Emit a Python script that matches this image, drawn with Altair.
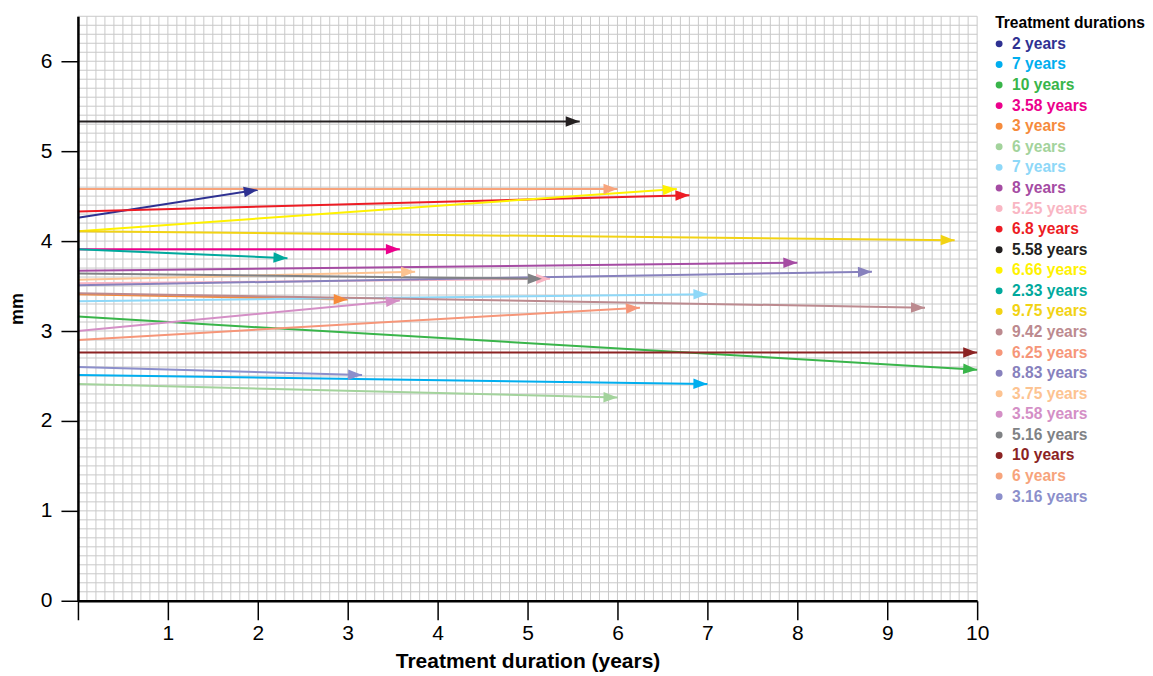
import math
import altair as alt
import numpy as np
import pandas as pd

labels = ["2 years", "7 years", "10 years", "3.58 years", "3 years", "6 years",
          "7 years", "8 years", "5.25 years", "6.8 years", "5.58 years", "6.66 years",
          "2.33 years", "9.75 years", "9.42 years", "6.25 years", "8.83 years",
          "3.75 years", "3.58 years", "5.16 years", "10 years", "6 years", "3.16 years"]
durations = [2, 7, 10, 3.58, 3, 6, 7, 8, 5.25, 6.8, 5.58, 6.66, 2.33, 9.75, 9.42,
             6.25, 8.83, 3.75, 3.58, 5.16, 10, 6, 3.16]
start_mm = [4.26, 2.51, 3.16, 3.91, 3.41, 2.41, 3.33, 3.67, 3.53, 4.33, 5.33, 4.11,
            3.91, 4.11, 3.42, 2.90, 3.51, 3.57, 3.00, 3.64, 2.76, 4.58, 2.60]
end_mm = [4.57, 2.41, 2.57, 3.91, 3.35, 2.26, 3.41, 3.76, 3.58, 4.51, 5.33, 4.58,
          3.81, 4.01, 3.26, 3.26, 3.66, 3.66, 3.34, 3.58, 2.76, 4.58, 2.51]
colors = ["#2e3192", "#00aeef", "#39b54a", "#ec008c", "#f68b3c", "#a3d39c",
          "#8ed8f8", "#a54ca3", "#f9b6c3", "#ed1c24", "#231f20", "#fff200",
          "#00a99d", "#f2d314", "#bc8a8f", "#f69679", "#8781bd", "#fdc391",
          "#d48fc6", "#808285", "#8b2323", "#f7a47c", "#8c8fcb"]
legend_title = "Treatment durations"

ids = [f"s{i:02d}" for i in range(len(labels))]
PX_X = 900 / 10.0
PX_Y = 585 / 6.5

df = pd.DataFrame({
    "id": ids, "label": labels, "dur": durations,
    "y0": start_mm, "y1": end_mm, "x0": [0.0] * len(ids),
    "row": list(range(1, len(ids) + 1)),
})
df["ang"] = [math.degrees(math.atan2(-(b - a) * PX_Y, d * PX_X)) % 360
             for a, b, d in zip(df.y0, df.y1, df.dur)]

FONT = "Liberation Sans"
xscale = alt.Scale(domain=[0, 10], nice=False, zero=False)
yscale = alt.Scale(domain=[0, 6.5], nice=False, zero=False)

xaxis = alt.Axis(
    values=[i * 0.5 for i in range(21)], grid=False, format="d",
    tickSize={"condition": {"test": "datum.value % 1 === 0", "value": 19}, "value": 12},
    tickColor="black", tickWidth=1.5, domainColor="black", domainWidth=2.5,
    labelExpr="datum.value >= 1 && datum.value % 1 === 0 ? datum.label : ''",
    labelFont=FONT, labelFontSize=21, labelColor="black", labelPadding=3,
    labelFlush=False, labelOverlap=False,
    title="Treatment duration (years)", titleFont=FONT, titleFontSize=21,
    titleFontWeight="bold", titleColor="black", titlePadding=7, zindex=1,
)
yaxis = alt.Axis(
    values=[i * 0.5 for i in range(13)], grid=False, format="d",
    tickSize={"condition": {"test": "datum.value % 1 === 0", "value": 17}, "value": 11},
    tickColor="black", tickWidth=1.5, domainColor="black", domainWidth=2.5,
    labelExpr="datum.value % 1 === 0 ? datum.label : ''",
    labelFont=FONT, labelFontSize=21, labelColor="black", labelPadding=9,
    labelFlush=False, labelOverlap=False,
    title="mm", titleFont=FONT, titleFontSize=18, titleFontWeight="bold",
    titleColor="black", titlePadding=14, zindex=1,
)

color = alt.Color("id:N", scale=alt.Scale(domain=ids, range=colors), legend=None)

gx = pd.DataFrame({"gx": np.round(np.arange(0, 101) * 0.1, 2)})
gy = pd.DataFrame({"gy": np.round(np.arange(0, 66) * 0.1, 2)})

grid_x = alt.Chart(gx).mark_rule(color="#c9c9c9", strokeWidth=1).encode(
    x=alt.X("gx:Q", scale=xscale, axis=xaxis))
grid_y = alt.Chart(gy).mark_rule(color="#c9c9c9", strokeWidth=1).encode(
    y=alt.Y("gy:Q", scale=yscale, axis=yaxis))

base = alt.Chart(df)
lines = base.mark_rule(strokeWidth=2).encode(
    x=alt.X("x0:Q", scale=xscale, axis=xaxis),
    x2="dur:Q",
    y=alt.Y("y0:Q", scale=yscale, axis=yaxis),
    y2="y1:Q",
    color=color,
)
heads = base.mark_point(shape="M0,0 L-2,-0.75 L-2,0.75 Z", filled=True, size=196,
                        opacity=1, strokeWidth=0).encode(
    x=alt.X("dur:Q", scale=xscale, axis=xaxis),
    y=alt.Y("y1:Q", scale=yscale, axis=yaxis),
    angle=alt.Angle("ang:Q", scale=None),
    color=color,
)

main = alt.layer(grid_x, grid_y, lines, heads).properties(width=900, height=585)

# legend panel: row 0 is the title, rows 1..23 the entries (step ~20.6 px)
STEP = 20.6
lscale = alt.Scale(domain=[-7 / STEP, 585 / STEP - 7 / STEP], reverse=True, nice=False, zero=False)
legbase = alt.Chart(df).encode(
    y=alt.Y("row:Q", axis=None, scale=lscale),
    color=color,
)
dots = legbase.mark_circle(size=48, opacity=1).encode(x=alt.value(5))
texts = legbase.mark_text(align="left", baseline="middle", font=FONT, fontSize=15.6,
                          fontWeight="bold").encode(x=alt.value(18), text="label:N")
tdf = pd.DataFrame({"row": [0], "label": [legend_title]})
ltitle = alt.Chart(tdf).mark_text(align="left", baseline="middle", font=FONT,
                                  fontSize=15.6, fontWeight="bold", color="black").encode(
    x=alt.value(1), y=alt.Y("row:Q", axis=None, scale=lscale), text="label:N")
legend = alt.layer(dots, texts, ltitle).properties(width=140, height=585)

chart = alt.hconcat(main, legend, spacing=5).configure_view(stroke=None).properties(
    padding={"top": 7, "left": 0, "right": 0, "bottom": 0}, background="white")

chart.save("out.html", embed_options={"renderer": "svg", "actions": False})
